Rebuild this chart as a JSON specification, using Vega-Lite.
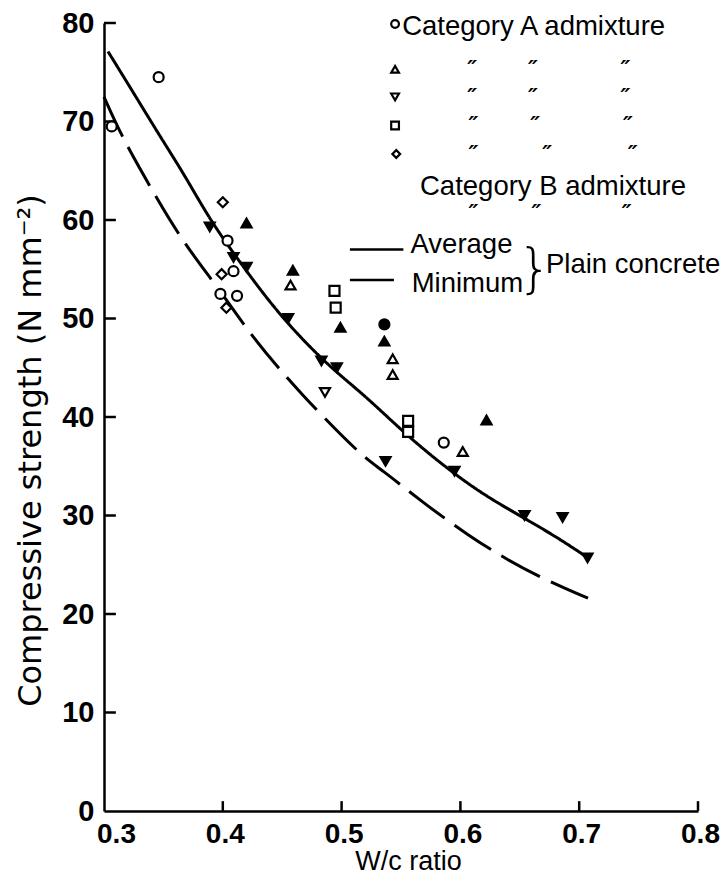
{
  "$schema": "https://vega.github.io/schema/vega-lite/v6.json",
  "width": 594,
  "height": 788,
  "autosize": {"type": "none"},
  "padding": {"left": 104, "top": 23, "right": 23, "bottom": 73},
  "background": "white",
  "config": {"view": {"stroke": null}, "font": "Liberation Sans"},
  "datasets": {
    "points": [
      {"w": 0.3065, "s": 69.5, "series": "A-circle"},
      {"w": 0.346, "s": 74.5, "series": "A-circle"},
      {"w": 0.404, "s": 57.9, "series": "A-circle"},
      {"w": 0.409, "s": 54.8, "series": "A-circle"},
      {"w": 0.412, "s": 52.3, "series": "A-circle"},
      {"w": 0.586, "s": 37.4, "series": "A-circle"},
      {"w": 0.398, "s": 52.5, "series": "A-circle"},
      {"w": 0.536, "s": 49.4, "series": "B-circle"},
      {"w": 0.457, "s": 53.4, "series": "A-triangle"},
      {"w": 0.543, "s": 45.9, "series": "A-triangle"},
      {"w": 0.543, "s": 44.3, "series": "A-triangle"},
      {"w": 0.602, "s": 36.5, "series": "A-triangle"},
      {"w": 0.420, "s": 59.7, "series": "B-triangle"},
      {"w": 0.459, "s": 54.9, "series": "B-triangle"},
      {"w": 0.499, "s": 49.1, "series": "B-triangle"},
      {"w": 0.536, "s": 47.7, "series": "B-triangle"},
      {"w": 0.622, "s": 39.7, "series": "B-triangle"},
      {"w": 0.389, "s": 59.3, "series": "B-down"},
      {"w": 0.409, "s": 56.2, "series": "B-down"},
      {"w": 0.420, "s": 55.2, "series": "B-down"},
      {"w": 0.455, "s": 50.0, "series": "B-down"},
      {"w": 0.483, "s": 45.7, "series": "B-down"},
      {"w": 0.496, "s": 45.0, "series": "B-down"},
      {"w": 0.537, "s": 35.5, "series": "B-down"},
      {"w": 0.595, "s": 34.5, "series": "B-down"},
      {"w": 0.654, "s": 30.0, "series": "B-down"},
      {"w": 0.686, "s": 29.8, "series": "B-down"},
      {"w": 0.707, "s": 25.7, "series": "B-down"},
      {"w": 0.486, "s": 42.5, "series": "A-down"},
      {"w": 0.494, "s": 52.8, "series": "A-square"},
      {"w": 0.495, "s": 51.1, "series": "A-square"},
      {"w": 0.556, "s": 39.6, "series": "A-square"},
      {"w": 0.556, "s": 38.5, "series": "A-square"},
      {"w": 0.400, "s": 61.8, "series": "A-diamond"},
      {"w": 0.399, "s": 54.5, "series": "A-diamond"},
      {"w": 0.403, "s": 51.1, "series": "A-diamond"}
    ],
    "curves": [
      {"w": 0.3034, "s": 77.1, "curve": "Average"},
      {"w": 0.3244, "s": 73.0, "curve": "Average"},
      {"w": 0.3471, "s": 68.5, "curve": "Average"},
      {"w": 0.3682, "s": 64.5, "curve": "Average"},
      {"w": 0.3892, "s": 60.0, "curve": "Average"},
      {"w": 0.4145, "s": 55.7, "curve": "Average"},
      {"w": 0.4397, "s": 51.6, "curve": "Average"},
      {"w": 0.4650, "s": 48.1, "curve": "Average"},
      {"w": 0.4928, "s": 44.8, "curve": "Average"},
      {"w": 0.5214, "s": 42.0, "curve": "Average"},
      {"w": 0.5559, "s": 38.0, "curve": "Average"},
      {"w": 0.5938, "s": 34.3, "curve": "Average"},
      {"w": 0.6224, "s": 31.9, "curve": "Average"},
      {"w": 0.6527, "s": 29.8, "curve": "Average"},
      {"w": 0.6813, "s": 27.8, "curve": "Average"},
      {"w": 0.7074, "s": 25.7, "curve": "Average"},
      {"w": 0.3000, "s": 72.5, "curve": "Minimum"},
      {"w": 0.3152, "s": 68.4, "curve": "Minimum"},
      {"w": 0.3387, "s": 63.4, "curve": "Minimum"},
      {"w": 0.3665, "s": 57.7, "curve": "Minimum"},
      {"w": 0.3976, "s": 52.9, "curve": "Minimum"},
      {"w": 0.4246, "s": 48.1, "curve": "Minimum"},
      {"w": 0.4650, "s": 42.4, "curve": "Minimum"},
      {"w": 0.5180, "s": 35.9, "curve": "Minimum"},
      {"w": 0.5323, "s": 34.8, "curve": "Minimum"},
      {"w": 0.5685, "s": 31.3, "curve": "Minimum"},
      {"w": 0.6064, "s": 28.0, "curve": "Minimum"},
      {"w": 0.6392, "s": 25.5, "curve": "Minimum"},
      {"w": 0.6710, "s": 23.5, "curve": "Minimum"},
      {"w": 0.7074, "s": 21.6, "curve": "Minimum"}
    ],
    "xTicks": [
      {"w": 0.4, "s": 0, "s2": 1.0}, {"w": 0.5, "s": 0, "s2": 1.0}, {"w": 0.6, "s": 0, "s2": 1.0},
      {"w": 0.7, "s": 0, "s2": 1.0}, {"w": 0.8, "s": 0, "s2": 1.0}
    ],
    "yTicks": [
      {"w": 0.3, "w2": 0.31, "s": 10}, {"w": 0.3, "w2": 0.31, "s": 20}, {"w": 0.3, "w2": 0.31, "s": 30},
      {"w": 0.3, "w2": 0.31, "s": 40}, {"w": 0.3, "w2": 0.31, "s": 50}, {"w": 0.3, "w2": 0.31, "s": 60},
      {"w": 0.3, "w2": 0.31, "s": 70}, {"w": 0.3, "w2": 0.31, "s": 80}
    ],
    "legendSymbols": [
      {"w": 0.545, "s": 79.9, "series": "A-circle"},
      {"w": 0.545, "s": 75.3, "series": "A-triangle"},
      {"w": 0.545, "s": 72.5, "series": "A-down"},
      {"w": 0.545, "s": 69.6, "series": "A-square"},
      {"w": 0.546, "s": 66.7, "series": "A-diamond"}
    ],
    "legendText": [
      {"w": 0.551, "s": 79.6, "t": "Category A admixture"},
      {"w": 0.566, "s": 63.35, "t": "Category B admixture"},
      {"w": 0.558, "s": 57.5, "t": "Average"},
      {"w": 0.559, "s": 53.5, "t": "Minimum"},
      {"w": 0.672, "s": 55.4, "t": "Plain concrete"}
    ],
    "dittos": [
      {"w": 0.610, "s": 75.3}, {"w": 0.661, "s": 75.3}, {"w": 0.739, "s": 75.3},
      {"w": 0.610, "s": 72.5}, {"w": 0.661, "s": 72.5}, {"w": 0.739, "s": 72.5},
      {"w": 0.611, "s": 69.6}, {"w": 0.663, "s": 69.6}, {"w": 0.741, "s": 69.6},
      {"w": 0.611, "s": 66.7}, {"w": 0.673, "s": 66.7}, {"w": 0.745, "s": 66.7},
      {"w": 0.611, "s": 60.7}, {"w": 0.664, "s": 60.7}, {"w": 0.740, "s": 60.7}
    ],
    "brace": [{"w": 0.6625, "s": 54.8, "t": "}"}],
    "legendLines": [
      {"w": 0.507, "w2": 0.552, "s": 57.0, "curve": "Average"},
      {"w": 0.507, "w2": 0.552, "s": 53.9, "curve": "Minimum"}
    ]
  },
  "layer": [
    {
      "data": {"name": "curves"},
      "mark": {"type": "line", "interpolate": "basis", "strokeWidth": 3, "color": "black"},
      "encoding": {
        "x": {
          "field": "w", "type": "quantitative",
          "scale": {"domain": [0.3, 0.8], "nice": false, "zero": false},
          "axis": {
            "orient": "bottom",
            "values": [0.3, 0.4, 0.5, 0.6, 0.7, 0.8], "format": ".1f", "grid": false,
            "domainColor": "black", "domainWidth": 2.5, "ticks": false, "tickSize": 0,
            "labelFont": "Liberation Sans", "labelFontSize": 28, "labelFontWeight": "bold",
            "labelColor": "black", "labelPadding": 9, "labelFlush": false, "labelOverlap": false,
            "labelOffset": {"condition": {"test": "datum.value < 0.35", "value": 12}, "value": 2},
            "title": "W/c ratio", "titleFontSize": 27, "titleFontWeight": "normal",
            "titleColor": "black", "titleX": 304, "titleY": 37, "titleBaseline": "top"
          }
        },
        "y": {
          "field": "s", "type": "quantitative",
          "scale": {"domain": [0, 80], "nice": false},
          "axis": {
            "orient": "left",
            "values": [0, 10, 20, 30, 40, 50, 60, 70, 80], "grid": false,
            "domainColor": "black", "domainWidth": 2.5, "ticks": false, "tickSize": 0,
            "labelFont": "Liberation Sans", "labelFontSize": 29,
            "labelFontWeight": "bold", "labelColor": "black", "labelPadding": 10,
            "labelFlush": false, "labelOverlap": false,
            "title": "Compressive strength (N mm⁻²)", "titleFontSize": 32, "titleFont": "DejaVu Sans",
            "titleFontWeight": "normal", "titleColor": "black", "titleX": -74, "titleY": 427,
            "titleAngle": -90, "titleBaseline": "middle", "titleAlign": "center"
          }
        },
        "strokeDash": {
          "field": "curve", "type": "nominal",
          "scale": {"domain": ["Average", "Minimum"], "range": [[1, 0], [44, 12]]},
          "legend": null
        }
      }
    },
    {
      "data": {"name": "xTicks"},
      "mark": {"type": "rule", "strokeWidth": 2.5, "color": "black"},
      "encoding": {
        "x": {"field": "w", "type": "quantitative"},
        "y": {"field": "s", "type": "quantitative"},
        "y2": {"field": "s2"}
      }
    },
    {
      "data": {"name": "yTicks"},
      "mark": {"type": "rule", "strokeWidth": 2.5, "color": "black"},
      "encoding": {
        "x": {"field": "w", "type": "quantitative"},
        "x2": {"field": "w2"},
        "y": {"field": "s", "type": "quantitative"}
      }
    },
    {
      "data": {"name": "points"},
      "mark": {"type": "point", "filled": false, "strokeWidth": 2.2, "stroke": "black", "opacity": 1, "size": 100},
      "encoding": {
        "x": {"field": "w", "type": "quantitative"},
        "y": {"field": "s", "type": "quantitative"},
        "shape": {
          "field": "series", "type": "nominal",
          "scale": {
            "domain": ["A-circle", "A-triangle", "A-down", "A-square", "A-diamond", "B-circle", "B-triangle", "B-down"],
            "range": ["circle", "triangle-up", "triangle-down", "square", "diamond", "circle", "triangle-up", "triangle-down"]
          },
          "legend": null
        },
        "fill": {
          "field": "series", "type": "nominal",
          "scale": {
            "domain": ["A-circle", "A-triangle", "A-down", "A-square", "A-diamond", "B-circle", "B-triangle", "B-down"],
            "range": ["white", "white", "white", "white", "white", "black", "black", "black"]
          },
          "legend": null
        }
      }
    },
    {
      "data": {"name": "legendSymbols"},
      "mark": {"type": "point", "filled": false, "strokeWidth": 2.2, "stroke": "black", "fill": "white", "opacity": 1, "size": 60},
      "encoding": {
        "x": {"field": "w", "type": "quantitative"},
        "y": {"field": "s", "type": "quantitative"},
        "shape": {"field": "series", "type": "nominal", "legend": null}
      }
    },
    {
      "data": {"name": "legendLines"},
      "mark": {"type": "rule", "strokeWidth": 2.5, "color": "black"},
      "encoding": {
        "x": {"field": "w", "type": "quantitative"},
        "x2": {"field": "w2"},
        "y": {"field": "s", "type": "quantitative"},
        "strokeDash": {
          "field": "curve", "type": "nominal",
          "scale": {"domain": ["Average", "Minimum"], "range": [[1, 0], [22, 8]]},
          "legend": null
        }
      }
    },
    {
      "data": {"name": "legendText"},
      "mark": {"type": "text", "align": "left", "baseline": "middle", "fontSize": 27.5, "font": "Liberation Sans", "color": "black"},
      "encoding": {
        "x": {"field": "w", "type": "quantitative"},
        "y": {"field": "s", "type": "quantitative"},
        "text": {"field": "t"}
      }
    },
    {
      "data": {"name": "dittos"},
      "mark": {"type": "text", "align": "center", "baseline": "middle", "fontSize": 22, "fontStyle": "italic", "fontWeight": "bold", "font": "DejaVu Sans", "color": "black", "text": "″"},
      "encoding": {
        "x": {"field": "w", "type": "quantitative"},
        "y": {"field": "s", "type": "quantitative"}
      }
    },
    {
      "data": {"name": "brace"},
      "mark": {"type": "text", "align": "center", "baseline": "middle", "fontSize": 54, "font": "DejaVu Sans", "fontWeight": 200, "color": "black"},
      "encoding": {
        "x": {"field": "w", "type": "quantitative"},
        "y": {"field": "s", "type": "quantitative"},
        "text": {"field": "t"}
      }
    }
  ]
}
